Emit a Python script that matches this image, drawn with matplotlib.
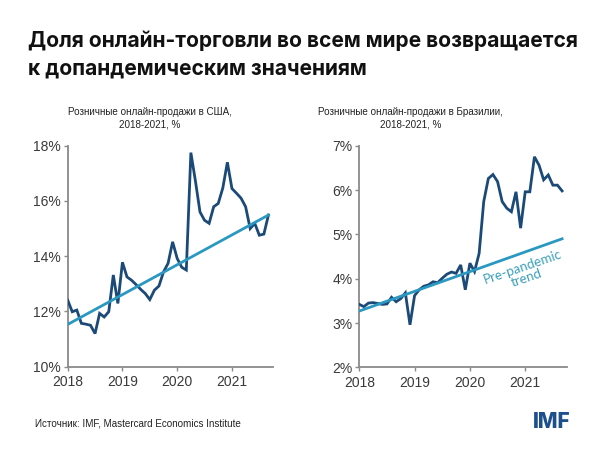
import matplotlib
matplotlib.use("Agg")
import matplotlib.pyplot as plt
import numpy as np

# Data: monthly, Jan 2018 - Sep 2021
months = np.arange(45)
years_x = 2018 + months / 12.0

us_share = [12.41, 11.99, 12.05, 11.57, 11.54, 11.50, 11.20, 11.93, 11.80, 11.99,
            13.32, 12.29, 13.78, 13.25, 13.13, 12.97, 12.80, 12.65, 12.43, 12.77,
            12.92, 13.43, 13.74, 14.52, 13.92, 13.60, 13.50, 17.75, 16.72, 15.60,
            15.30, 15.19, 15.79, 15.91, 16.47, 17.40, 16.45, 16.28, 16.10, 15.79,
            15.00, 15.19, 14.76, 14.80, 15.49]
us_trend = [11.53, 15.49]

br_share = [3.42, 3.37, 3.45, 3.46, 3.44, 3.42, 3.43, 3.58, 3.48, 3.55,
            3.68, 2.96, 3.62, 3.75, 3.83, 3.86, 3.93, 3.91, 4.01, 4.10,
            4.15, 4.12, 4.31, 3.75, 4.35, 4.16, 4.57, 5.74, 6.26, 6.35,
            6.19, 5.74, 5.59, 5.51, 5.96, 5.14, 5.96, 5.96, 6.75, 6.56,
            6.23, 6.34, 6.11, 6.11, 5.98]
br_trend = [3.27, 4.90]

year_ticks = [2018, 2019, 2020, 2021]
us_yticks = [10, 12, 14, 16, 18]
br_yticks = [2, 3, 4, 5, 6, 7]

title = "Доля онлайн-торговли во всем мире возвращается\nк допандемическим значениям"
us_sub = "Розничные онлайн-продажи в США,\n2018-2021, %"
br_sub = "Розничные онлайн-продажи в Бразилии,\n2018-2021, %"
source = "Источник: IMF, Mastercard Economics Institute"

DARK = "#1b4a78"
TEAL = "#2a98c0"
SPINE = "#8a8a8a"
TXT = "#3a3a3a"

plt.rcParams['font.family'] = ['Liberation Sans', 'DejaVu Sans']

fig = plt.figure(figsize=(6, 4.5), dpi=100)
fig.patch.set_facecolor("white")

ax1 = fig.add_axes([0.1128, 0.1851, 0.3422, 0.4911])
ax2 = fig.add_axes([0.5988, 0.1837, 0.3457, 0.4925])

def style(ax, ylim, yticks):
    for s in ["top", "right"]:
        ax.spines[s].set_visible(False)
    for s in ["left", "bottom"]:
        ax.spines[s].set_color(SPINE)
        ax.spines[s].set_linewidth(1.3)
    ax.set_ylim(*ylim)
    ax.set_yticks(yticks)
    ax.set_yticklabels([f"{v}%" for v in yticks])
    ax.set_xticks(year_ticks)
    ax.set_xticklabels([str(y) for y in year_ticks])
    ax.set_xlim(2018, 2021.75)
    ax.tick_params(axis="both", colors=SPINE, labelcolor=TXT, labelsize=10,
                   length=3, width=1)
    ax.tick_params(axis="y", pad=2)
    ax.tick_params(axis="x", pad=3)

style(ax1, (10, 18), us_yticks)
style(ax2, (2, 7), br_yticks)

x_end = [years_x[0], years_x[-1]]
ax1.plot(years_x, us_share, color=DARK, lw=2.0, zorder=3, solid_joinstyle="miter")
ax1.plot(x_end, us_trend, color=TEAL, lw=2.0, zorder=4)

ax2.plot(years_x, br_share, color=DARK, lw=2.0, zorder=3, solid_joinstyle="miter")
ax2.plot(x_end, br_trend, color=TEAL, lw=2.0, zorder=4)

ax2.text(2020.98, 4.14, "Pre-pandemic\ntrend", color="#3a9fba", fontsize=9.6,
         family=['Lato', 'DejaVu Sans'], rotation=19, ha="center", va="center",
         linespacing=1.0, rotation_mode="anchor")

fig.text(0.047, 0.879, title, fontsize=15.1, fontweight="bold", color="#111111",
         family=['Inter', 'DejaVu Sans'], va="center", ha="left", linespacing=1.45)

fig.text(0.25, 0.737, us_sub, fontsize=7.1, color="#222222", ha="center", va="center",
         linespacing=1.3)
fig.text(0.684, 0.737, br_sub, fontsize=7.1, color="#222222", ha="center", va="center",
         linespacing=1.3)

fig.text(0.058, 0.06, source, fontsize=7.1, color="#222222", ha="left", va="center")
fig.text(0.951, 0.062, "IMF", fontsize=15, fontweight="heavy", color="#1d4f8c",
         family=['Inter', 'DejaVu Sans'], ha="right", va="center")

fig.savefig("out.png", dpi=100, facecolor="white")
